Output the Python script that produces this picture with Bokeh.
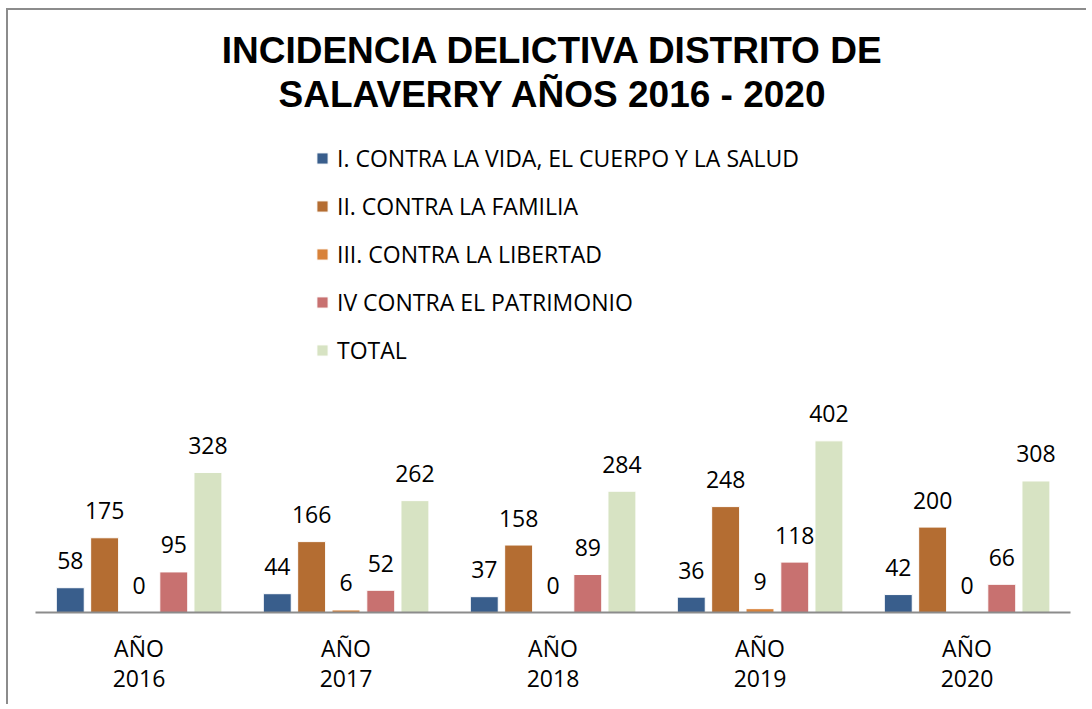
from bokeh.plotting import figure
from bokeh.models import (FactorRange, Range1d, ColumnDataSource, Legend, LegendItem, Label,
                          CategoricalAxis)
from bokeh.transform import dodge
from bokeh.core.properties import value
from bokeh.embed import file_html
from bokeh.resources import INLINE

# ---- data ----
years = ["2016", "2017", "2018", "2019", "2020"]
year_prefix = "AÑO"
series_names = [
    "I. CONTRA LA VIDA, EL CUERPO Y LA SALUD",
    "II. CONTRA LA FAMILIA",
    "III. CONTRA LA LIBERTAD",
    "IV CONTRA EL PATRIMONIO",
    "TOTAL",
]
vida = [58, 44, 37, 36, 42]
familia = [175, 166, 158, 248, 200]
libertad = [0, 6, 0, 9, 0]
patrimonio = [95, 52, 89, 118, 66]
total = [328, 262, 284, 402, 308]
title_lines = ["INCIDENCIA DELICTIVA DISTRITO DE", "SALAVERRY AÑOS 2016 - 2020"]

# ---- styling ----
colors = ["#395E8C", "#B46D32", "#D8823A", "#C87170", "#D7E3C3"]
offsets = [-0.332, -0.166, 0.0, 0.168, 0.333]
bar_w = 0.135
FONT = "Open Sans"

keys = ["vida", "familia", "libertad", "patrimonio", "total"]
data = dict(year=years, vida=vida, familia=familia, libertad=libertad,
            patrimonio=patrimonio, total=total)
for k in keys:
    data[k + "_s"] = [str(v) for v in data[k]]
src = ColumnDataSource(data)

ML, MR, MT, MB = 27, 18, 2, 94
W, H = 1080, 602 + MB
frame_h = H - MT - MB
px_per_unit = 0.427
y_end = frame_h / px_per_unit

xr = FactorRange(*years, range_padding=0, factor_padding=0)
p = figure(width=W, height=H, x_range=xr, x_axis_location=None, y_axis_location=None,
           y_range=Range1d(0, y_end), output_backend="svg", toolbar_location=None,
           min_border_left=ML, min_border_right=MR, min_border_top=MT, min_border_bottom=MB)
p.styles = {"border-top": "2px solid #8c8c8c", "border-left": "2px solid #8c8c8c",
            "margin-left": "6px", "margin-top": "8px"}
p.outline_line_color = None
p.grid.grid_line_color = None
p.background_fill_color = "white"
p.border_fill_color = "white"

# one "AÑO" label per year (distinct factor keys via zero-width suffix, same visible text)
prefix_factors = [year_prefix + "\u200b" * i for i in range(len(years))]
p.extra_x_ranges = {"prefix": FactorRange(*prefix_factors, range_padding=0, factor_padding=0)}


def style_axis(a, standoff):
    a.major_tick_line_color = None
    a.minor_tick_line_color = None
    a.major_tick_in = 0
    a.major_tick_out = 0
    a.major_label_text_font = FONT
    a.major_label_text_font_size = "23px"
    a.major_label_text_color = "#000000"
    a.major_label_text_line_height = 1.0
    a.major_label_standoff = standoff
    a.major_label_orientation = "horizontal"


ax = CategoricalAxis(x_range_name="prefix")
ax.axis_line_color = "#8c8c8c"
ax.axis_line_width = 2
style_axis(ax, 19)
p.add_layout(ax, "below")

ax2 = CategoricalAxis()
ax2.axis_line_color = None
style_axis(ax2, 3)
p.add_layout(ax2, "below")

items = []
for k, c, off, name in zip(keys, colors, offsets, series_names):
    r = p.vbar(x=dodge("year", off, range=p.x_range), top=k, width=bar_w, source=src,
               fill_color=c, line_color="white", line_width=1)
    p.text(x=dodge("year", off, range=p.x_range), y=k, text=k + "_s", source=src,
           text_align="center", text_baseline="alphabetic", y_offset=-27,
           text_font=value(FONT), text_font_size="23px", text_color="#000000")
    items.append(LegendItem(label=name, renderers=[r]))

legend = Legend(items=items, location=(280, 246), orientation="vertical",
                glyph_width=14, glyph_height=14, label_standoff=8,
                label_height=25, spacing=16, padding=0, margin=0,
                border_line_color=None, background_fill_alpha=0,
                label_text_font=FONT, label_text_font_size="23px",
                label_text_color="#000000")
p.add_layout(legend, "center")

# title
line_px = [40, 84]  # canvas baselines (empirically adjusted)
for t, cy in zip(title_lines, line_px):
    p.add_layout(Label(x=2.5, y=(602 - cy) / px_per_unit, text=t, text_align="center",
                       text_baseline="alphabetic", text_font="Liberation Sans",
                       text_font_style="bold", text_font_size="37px", text_color="#000000"))

open("out.html", "w").write(file_html(p, INLINE))
